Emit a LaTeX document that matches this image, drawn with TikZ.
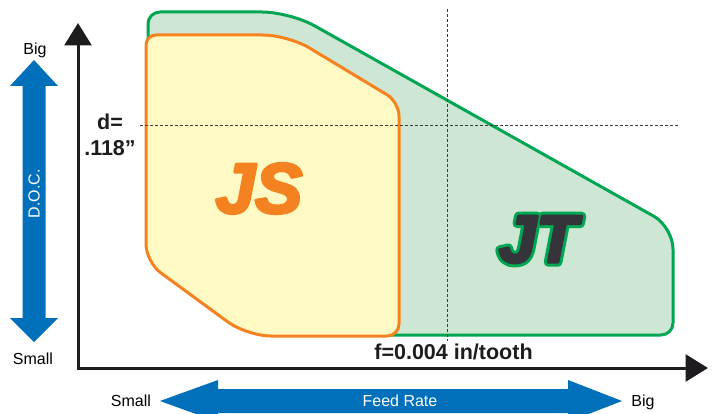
\documentclass[tikz,border=0pt]{standalone}
\usepackage{fontspec}
\setmainfont{Liberation Sans}
\usetikzlibrary{arrows.meta}

\definecolor{axisblack}{RGB}{30,28,30}
\definecolor{guidegray}{RGB}{60,60,60}
\definecolor{jtgreen}{RGB}{0,166,81}
\definecolor{jtfill}{RGB}{205,231,212}
\definecolor{jtdark}{RGB}{52,52,58}
\definecolor{jsorange}{RGB}{245,130,32}
\definecolor{jsfill}{RGB}{255,249,196}
\definecolor{docblue}{RGB}{0,112,186}

% glyphs filled and stroked (text render mode 2) with a stroke of width #1 and
% colour #2 (rgb triple), which makes the letters heavier or gives them a rim
\newcommand{\heavytext}[3]{%
  \special{pdf:literal direct 2 Tr #1 w 1 j #2 RG}#3\special{pdf:literal direct 0 Tr}}

\begin{document}
\begin{tikzpicture}[x=1pt,y=-1pt,
  axisline/.style={line width=3pt,draw=axisblack,
    {Triangle[length=22.5pt,width=27pt]}-{Triangle[length=22.5pt,width=27pt]}},
  guide/.style={line width=0.8pt,dash pattern=on 3pt off 2pt,draw=guidegray},
  jtshape/.style={fill=jtfill,draw=jtgreen,line width=3pt,line join=round},
  jsshape/.style={fill=jsfill,draw=jsorange,line width=3pt,line join=round},
  bluearrow/.style={fill=docblue},
  lbl/.style={font=\fontsize{16}{18}\selectfont,text=black,inner sep=0pt},
  boldlbl/.style={font=\fontsize{21.5}{24}\selectfont\bfseries,text=axisblack,inner sep=0pt},
  bigletters/.style={font=\fontsize{#1}{#1}\selectfont\bfseries\itshape,inner sep=0pt}]

\useasboundingbox (0,0) rectangle (715,414);
\clip (0,0) rectangle (715,414);

% JT operating range
\path[jtshape] (148,150) [rounded corners=12] -- (148,12)
  [rounded corners=28] -- (290,12)
  [rounded corners=22] -- (673,227)
  [rounded corners=12] -- (673,335)
  [sharp corners] -- (300,335) -- (300,150) -- cycle;

% JS operating range
\path[jsshape] (146,150) [rounded corners=10] -- (146,35)
  [rounded corners=25] -- (288,35)
  [rounded corners=14] -- (399,102)
  [rounded corners=12] -- (399,336)
  [rounded corners=24] -- (247,336)
  [rounded corners=18] -- (146,262) -- cycle;

% reference values
\coordinate (dleft) at (140,125);
\coordinate (dright) at (678,125);
\coordinate (ftop) at (447,9);
\coordinate (fbottom) at (447,341);
\draw[guide] (dleft) -- (dright);
\draw[guide] (ftop) -- (fbottom);

% axes
\coordinate (ytip) at (78,23);
\coordinate (origin) at (78,368);
\coordinate (xtip) at (708,368);
\draw[axisline] (ytip) -- (origin) -- (xtip);

% D.O.C. double arrow
\fill[bluearrow] (34,60) -- (58,86) -- (45.5,86) -- (45.5,318) -- (58,318)
  -- (34,342) -- (10,318) -- (22.5,318) -- (22.5,86) -- (10,86) -- cycle;
% Feed rate double arrow
\fill[bluearrow] (160,401) -- (218,380) -- (218,389) -- (568,389) -- (568,380)
  -- (622,401) -- (568,422) -- (568,413) -- (218,413) -- (218,422) -- cycle;

% labels
\node[lbl,anchor=base] (docbig) at (35,55) {Big};
\node[lbl,anchor=base] (docsmall) at (33,364.5) {Small};
\node[lbl,text=white,rotate=90] (doc) at (34,194) {D.O.C.};
\node[lbl,anchor=base] (feedsmall) at (131,406.5) {Small};
\node[lbl,anchor=base] (feedbig) at (643,406.5) {Big};
\node[lbl,anchor=base,text=white] (feed) at (400,406.5) {Feed Rate};

\node[boldlbl,anchor=base] (dlabel) at (110,130) {d=};
\node[boldlbl,anchor=base] (dvalue) at (110,156) {.118”};
\node[boldlbl,anchor=base] (fvalue) at (453.5,359) {f=0.004 in/tooth};

% series names
\node[bigletters=71,text=jsorange] (js) at (259,188.5)
  {\heavytext{3}{0.961 0.510 0.125}{JS}};
\node[bigletters=67,text=jtgreen] (jtrim) at (538,239.5)
  {\heavytext{9}{0 0.651 0.318}{JT}};
\node[bigletters=67,text=jtdark] (jt) at (538,239.5)
  {\heavytext{3}{0.204 0.204 0.227}{JT}};

\end{tikzpicture}
\end{document}
